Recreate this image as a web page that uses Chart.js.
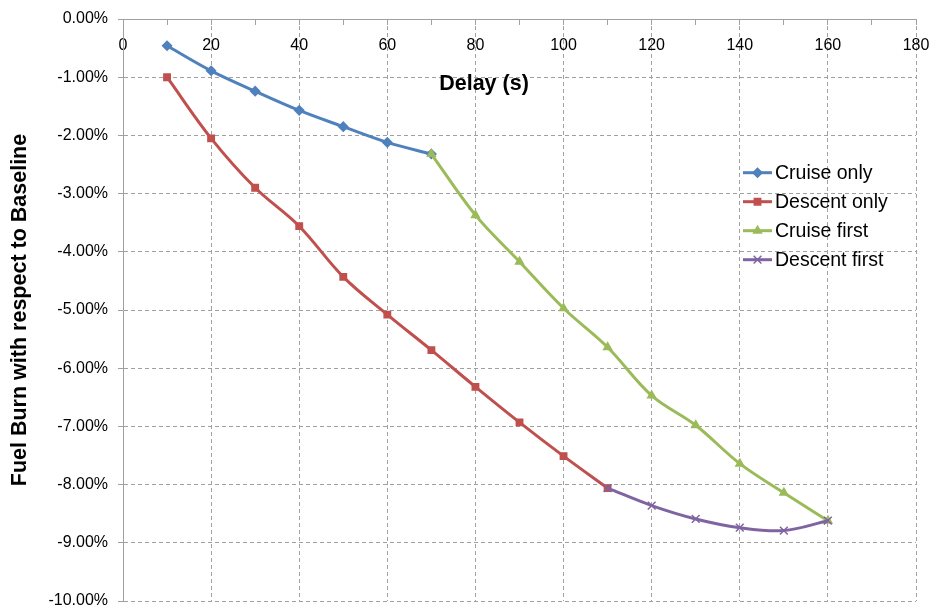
<!DOCTYPE html>
<html>
<head>
<meta charset="utf-8">
<script src="https://cdn.jsdelivr.net/npm/chart.js@4/dist/chart.umd.min.js"></script>
<style>
  html, body { margin: 0; padding: 0; background: #fff; }
  #wrap { width: 933px; height: 609px; position: relative; }
</style>
</head>
<body>
<div id="wrap"><canvas id="fuel"></canvas></div>
<script>
// Fuel burn vs delay (values in %)
const cruiseOnlyX   = [10, 20, 30, 40, 50, 60, 70];
const cruiseOnly    = [-0.46, -0.89, -1.24, -1.57, -1.85, -2.12, -2.32];

const descentOnlyX  = [10, 20, 30, 40, 50, 60, 70, 80, 90, 100, 110];
const descentOnly   = [-1.00, -2.05, -2.90, -3.56, -4.43, -5.08, -5.69, -6.32, -6.93, -7.51, -8.06];

const cruiseFirstX  = [70, 80, 90, 100, 110, 120, 130, 140, 150, 160];
const cruiseFirst   = [-2.32, -3.37, -4.17, -4.97, -5.64, -6.47, -6.98, -7.64, -8.14, -8.62];

const descentFirstX = [110, 120, 130, 140, 150, 160];
const descentFirst  = [-8.06, -8.36, -8.59, -8.74, -8.79, -8.62];

const seriesNames = ['Cruise only', 'Descent only', 'Cruise first', 'Descent first'];
const xTitle = 'Delay (s)';
const yTitle = 'Fuel Burn with respect to Baseline';

const FONT = "'Liberation Sans', Arial, sans-serif";
const GRID = '#a0a0a0';

const pts = (xs, ys) => xs.map((x, i) => ({ x: x, y: ys[i] }));

function series(label, data, color, style, radius, order) {
  return {
    label, data, order,
    borderColor: color, backgroundColor: color,
    borderWidth: 3, tension: 0.35,
    pointStyle: style, pointRadius: radius,
    pointBorderColor: color, pointBackgroundColor: color, pointBorderWidth: 1.5
  };
}

// legend with line + marker, drawn on the canvas
const lineLegend = {
  id: 'lineLegend',
  afterDraw(chart) {
    const { ctx } = chart;
    ctx.save();
    chart.data.datasets.forEach((ds, i) => {
      const y = 172.7 + i * 29;
      ctx.strokeStyle = ds.borderColor;
      ctx.lineWidth = 3;
      ctx.beginPath();
      ctx.moveTo(743, y);
      ctx.lineTo(772, y);
      ctx.stroke();
      ctx.fillStyle = ds.backgroundColor;
      ctx.strokeStyle = ds.borderColor;
      ctx.lineWidth = 1.5;
      Chart.helpers.drawPoint(ctx, { pointStyle: ds.pointStyle, radius: ds.pointRadius, rotation: 0, borderWidth: 1.5 }, 757.5, y);
      ctx.fillStyle = '#000';
      ctx.font = '19.5px ' + FONT;
      ctx.textAlign = 'left';
      ctx.textBaseline = 'middle';
      ctx.fillText(ds.label, 775, y + 1);
    });
    // x axis title sits inside the plot, left of centre
    ctx.font = 'bold 21.5px ' + FONT;
    ctx.textAlign = 'center';
    ctx.textBaseline = 'alphabetic';
    ctx.fillText(xTitle, 484, 90);
    ctx.restore();
  }
};

new Chart(document.getElementById('fuel'), {
  type: 'line',
  data: {
    datasets: [
      series(seriesNames[0], pts(cruiseOnlyX, cruiseOnly), '#4f81bd', 'rectRot', 4.5, 4),
      series(seriesNames[1], pts(descentOnlyX, descentOnly), '#c0504d', 'rect', 4.5, 3),
      series(seriesNames[2], pts(cruiseFirstX, cruiseFirst), '#9bbb59', 'triangle', 4.5, 2),
      series(seriesNames[3], pts(descentFirstX, descentFirst), '#8064a2', 'crossRot', 5.5, 1)
    ]
  },
  options: {
    responsive: true,
    maintainAspectRatio: false,
    animation: false,
    layout: { padding: { left: 0, top: 19, right: 17, bottom: 8 } },
    plugins: { legend: { display: false }, tooltip: { enabled: false } },
    scales: {
      x: {
        type: 'linear',
        position: { y: 0 },
        min: 0, max: 180,
        afterFit: (s) => { s.paddingLeft = 0; s.paddingRight = 0; },
        border: { display: true, color: GRID, width: 1, dash: [4, 3] },
        grid: {
          color: (c) => (c.tick && c.tick.value % 20 === 0) ? GRID : 'rgba(0,0,0,0)',
          tickColor: GRID,
          tickLength: 5,
          tickBorderDash: [],
          lineWidth: 1
        },
        ticks: {
          stepSize: 10,
          autoSkip: false,
          maxRotation: 0,
          padding: 14,
          color: '#000',
          font: { family: FONT, size: 16, lineHeight: 1 },
          callback: (v) => (v % 20 === 0 ? String(v) : '')
        }
      },
      y: {
        position: 'left',
        min: -10, max: 0,
        afterFit: (s) => { s.width = 123; s.paddingTop = 0; s.paddingBottom = 0; },
        border: { display: true, color: GRID, width: 1, dash: [4, 3] },
        grid: { color: GRID, tickColor: GRID, tickLength: 5, tickBorderDash: [], lineWidth: 1 },
        ticks: {
          stepSize: 1,
          padding: 10,
          color: '#000',
          font: { family: FONT, size: 16, lineHeight: 1 },
          callback: (v) => v.toFixed(2) + '%'
        },
        title: {
          display: true,
          text: yTitle,
          color: '#000',
          padding: { top: 7, bottom: 0 },
          font: { family: FONT, size: 21.5, weight: 'bold', lineHeight: 1.2 }
        }
      }
    }
  },
  plugins: [lineLegend]
});
</script>
</body>
</html>
